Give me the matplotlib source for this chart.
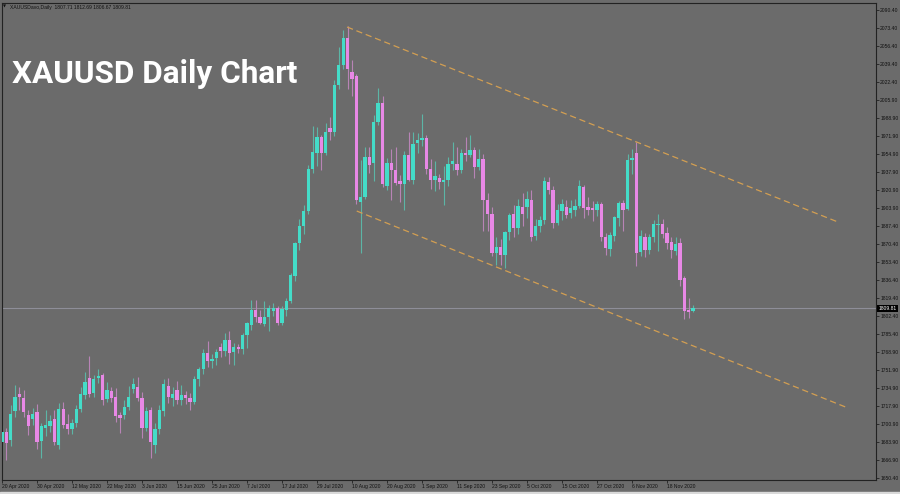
import numpy
import pandas
import matplotlib
matplotlib.use('Agg')
from matplotlib import pyplot
from matplotlib import transforms
from matplotlib.patches import Rectangle

# daily XAUUSD candles, 20 Apr 2020 .. 26 Nov 2020 (weekdays)
opens = [1684, 1694, 1686, 1713, 1729, 1726, 1710, 1706, 1712, 1685,
         1697, 1699, 1706, 1681, 1715, 1701, 1696, 1702, 1715, 1728,
         1744, 1730, 1744, 1747, 1725, 1732, 1727, 1710, 1710, 1717,
         1734, 1736, 1726, 1697, 1714, 1681, 1696, 1713, 1737, 1726,
         1733, 1724, 1728, 1726, 1722, 1743, 1753, 1768, 1760, 1763,
         1774, 1770, 1780, 1769, 1774, 1772, 1785, 1794, 1808, 1802,
         1795, 1802, 1807, 1810, 1796, 1808, 1817, 1840, 1871, 1887,
         1901, 1941, 1956, 1971, 1956, 1979, 1976, 2020, 2039, 2064,
         2032, 2028, 1910, 1915, 1952, 1947, 1985, 2003, 1925, 1947,
         1940, 1930, 1927, 1954, 1931, 1965, 1968, 1970, 1941, 1931,
         1932, 1929, 1931, 1946, 1946, 1940, 1956, 1954, 1959, 1943,
         1950, 1912, 1899, 1862, 1868, 1860, 1882, 1899, 1885, 1905,
         1905, 1912, 1878, 1887, 1893, 1929, 1921, 1890, 1901, 1905,
         1900, 1902, 1906, 1924, 1905, 1904, 1902, 1908, 1877, 1866,
         1878, 1895, 1909, 1903, 1949, 1956, 1863, 1877, 1865, 1877,
         1888, 1889, 1881, 1872, 1864, 1871, 1838, 1808, 1807.71]
highs = [1700, 1697, 1719, 1738, 1736, 1733, 1714, 1716, 1720, 1702,
         1714, 1710, 1714, 1721, 1722, 1711, 1706, 1719, 1736, 1750,
         1765, 1747, 1753, 1749, 1741, 1736, 1735, 1712, 1724, 1737,
         1744, 1745, 1731, 1717, 1717, 1702, 1719, 1743, 1744, 1736,
         1742, 1738, 1732, 1730, 1746, 1755, 1772, 1779, 1767, 1772,
         1777, 1787, 1789, 1777, 1776, 1787, 1797, 1818, 1818, 1808,
         1817, 1813, 1815, 1812, 1812, 1820, 1843, 1872, 1894, 1907,
         1945, 1981, 1980, 1973, 1984, 1990, 2025, 2056, 2072, 2075,
         2043, 2030, 1949, 1962, 1962, 1992, 2017, 2010, 1951, 1960,
         1962, 1935, 1958, 1976, 1976, 1975, 1993, 1973, 1950, 1948,
         1936, 1944, 1952, 1966, 1962, 1960, 1971, 1973, 1962, 1960,
         1955, 1918, 1905, 1877, 1875, 1883, 1900, 1907, 1913, 1918,
         1920, 1921, 1894, 1897, 1933, 1933, 1925, 1908, 1913, 1912,
         1912, 1913, 1931, 1926, 1915, 1911, 1911, 1910, 1881, 1882,
         1897, 1911, 1912, 1955, 1960, 1966, 1884, 1881, 1880, 1893,
         1899, 1894, 1886, 1877, 1877, 1876, 1840, 1820, 1812.69]
lows = [1672, 1667, 1680, 1708, 1714, 1708, 1691, 1700, 1678, 1669,
        1690, 1694, 1681, 1678, 1697, 1692, 1692, 1698, 1712, 1725,
        1727, 1727, 1740, 1719, 1722, 1722, 1703, 1693, 1706, 1714,
        1730, 1723, 1688, 1695, 1669, 1674, 1692, 1709, 1721, 1718,
        1720, 1719, 1720, 1714, 1720, 1737, 1748, 1755, 1754, 1757,
        1764, 1765, 1758, 1757, 1768, 1767, 1773, 1790, 1797, 1795,
        1793, 1789, 1803, 1794, 1794, 1803, 1815, 1836, 1865, 1880,
        1899, 1937, 1944, 1940, 1954, 1968, 1972, 2016, 2035, 2016,
        2010, 1908, 1862, 1913, 1937, 1930, 1982, 1924, 1921, 1912,
        1926, 1910, 1902, 1930, 1927, 1956, 1963, 1936, 1922, 1920,
        1922, 1907, 1925, 1940, 1935, 1937, 1948, 1952, 1932, 1940,
        1883, 1883, 1859, 1851, 1851, 1848, 1874, 1877, 1880, 1887,
        1895, 1873, 1874, 1882, 1889, 1917, 1885, 1888, 1893, 1895,
        1895, 1897, 1904, 1895, 1898, 1892, 1897, 1873, 1860, 1859,
        1873, 1887, 1883, 1902, 1936, 1850, 1859, 1858, 1861, 1872,
        1864, 1876, 1866, 1857, 1860, 1831, 1800, 1801, 1806.67]
closes = [1694, 1683, 1711, 1727, 1727, 1712, 1699, 1711, 1684, 1699,
          1700, 1704, 1684, 1715, 1700, 1696, 1702, 1715, 1729, 1741,
          1729, 1743, 1746, 1724, 1733, 1726, 1709, 1707, 1717, 1727,
          1739, 1726, 1697, 1713, 1684, 1696, 1714, 1739, 1727, 1729,
          1724, 1728, 1726, 1722, 1743, 1753, 1768, 1760, 1762, 1769,
          1770, 1780, 1768, 1774, 1772, 1785, 1796, 1808, 1802, 1796,
          1802, 1810, 1810, 1796, 1809, 1817, 1841, 1871, 1887, 1901,
          1941, 1957, 1971, 1956, 1976, 1976, 2020, 2039, 2064, 2035,
          2026, 1912, 1915, 1952, 1945, 1985, 2003, 1927, 1947, 1940,
          1928, 1927, 1954, 1931, 1964, 1968, 1970, 1941, 1931, 1934,
          1929, 1931, 1946, 1948, 1940, 1956, 1954, 1959, 1943, 1950,
          1912, 1899, 1862, 1868, 1860, 1882, 1898, 1885, 1906, 1899,
          1913, 1877, 1887, 1893, 1930, 1921, 1890, 1902, 1908, 1898,
          1904, 1906, 1925, 1904, 1902, 1902, 1908, 1877, 1867, 1879,
          1896, 1909, 1902, 1949, 1951, 1862, 1878, 1865, 1877, 1889,
          1889, 1880, 1871, 1865, 1870, 1837, 1807, 1806, 1809.81]

x_tick_labels = ['20 Apr 2020', '30 Apr 2020', '12 May 2020', '22 May 2020',
                 '3 Jun 2020', '15 Jun 2020', '25 Jun 2020', '7 Jul 2020',
                 '17 Jul 2020', '29 Jul 2020', '10 Aug 2020', '20 Aug 2020',
                 '1 Sep 2020', '11 Sep 2020', '23 Sep 2020', '5 Oct 2020',
                 '15 Oct 2020', '27 Oct 2020', '6 Nov 2020', '18 Nov 2020']
y_tick_labels = ['2090.40', '2073.40', '2056.40', '2039.40', '2022.40',
                 '2005.90', '1988.90', '1971.90', '1954.90', '1937.90',
                 '1920.90', '1903.90', '1887.40', '1870.40', '1853.40',
                 '1836.40', '1819.40', '1802.40', '1785.40', '1768.90',
                 '1751.90', '1734.90', '1717.90', '1700.90', '1683.90',
                 '1666.90', '1650.40']

# channel lines (bar index, price)
upper_line_x = [78.9, 191.1]
upper_line_y = [2074.4, 1891.1]
lower_line_x = [81.1, 193.4]
lower_line_y = [1901.4, 1716.2]

BG = '#6b6b6b'
BULL = '#44dcc8'
BEAR = '#e888e6'

o = numpy.array(opens, dtype=float)
h = numpy.array(highs, dtype=float)
l = numpy.array(lows, dtype=float)
c = numpy.array(closes, dtype=float)
x = numpy.arange(len(c))

# trading-day axis, labels every 8 bars
dates = pandas.bdate_range('2020-04-20', periods=len(c))
date_names = [f"{d.day} {d.strftime('%b %Y')}" for d in dates]
tick_pos = [date_names.index(s) for s in x_tick_labels]

fig = pyplot.figure(figsize=(9, 4.94), dpi=100, facecolor=BG)
ax = fig.add_axes([1.5 / 900, 14 / 494, 874.5 / 900, 477 / 494], facecolor=BG)

up = c >= o
wick_col = numpy.where(up, '#5cb5a6', '#b884b6')
body_col = numpy.where(up, BULL, BEAR)
ax.vlines(x, l, h, colors=wick_col, lw=0.8, zorder=2)
ax.bar(x, numpy.maximum(numpy.abs(c - o), 0.9), bottom=numpy.minimum(o, c),
       width=0.76, color=body_col, lw=0, zorder=3)

# current price line
last = c[-1]
ax.axhline(last, color='#8e8e98', lw=0.8, zorder=1)

for lx, ly in ((upper_line_x, upper_line_y), (lower_line_x, lower_line_y)):
    ax.plot(lx, ly, color='#d39f52', lw=0.9, ls=(0, (5, 3)), zorder=4)

ax.set_xlim(-0.1, 199.8)
ax.set_ylim(1648.5, 2097.0)

for s in ax.spines.values():
    s.set_color('#222222')
    s.set_linewidth(0.8)

small = dict(family=['Liberation Sans', 'DejaVu Sans'], size=3.6)
ax.yaxis.tick_right()
ax.set_yticks([float(v) for v in y_tick_labels])
ax.set_yticklabels(y_tick_labels, fontdict=small, color='#111111')
ax.set_xticks(tick_pos)
ax.set_xticklabels(x_tick_labels, fontdict=small, color='#111111', ha='left')
ax.tick_params(direction='out', length=2, width=0.6, color='#222222', pad=1)

# price box on the right scale
trans = transforms.blended_transform_factory(ax.transAxes, ax.transData)
ax.text(1.0025, last, f'{last:.2f}', transform=trans, ha='left', va='center',
        color='white', clip_on=False, zorder=6,
        bbox=dict(boxstyle='square,pad=0.25', fc='black', ec='none'), **small)

# header line of the terminal
fig.text(3 / 900, 1 - 7 / 494, '\u25bc', color='#111111', va='center',
         family=['DejaVu Sans'], size=2.8)
fig.text(10 / 900, 1 - 7 / 494,
         f'XAUUSDavo,Daily  {o[-1]:.2f} {h[-1]:.2f} {l[-1]:.2f} {c[-1]:.2f}',
         color='#111111', va='center', **small)

fig.text(12 / 900, 1 - 83 / 494, 'XAUUSD Daily Chart', color='white',
         family=['Roboto', 'DejaVu Sans'], fontweight='bold', size=22.7,
         va='baseline')

fig.patches.append(Rectangle((0, 0), 1, 2.5 / 494, transform=fig.transFigure,
                             color='#d9d9d9', zorder=0))

fig.savefig('out.png', dpi=100, facecolor=BG)
